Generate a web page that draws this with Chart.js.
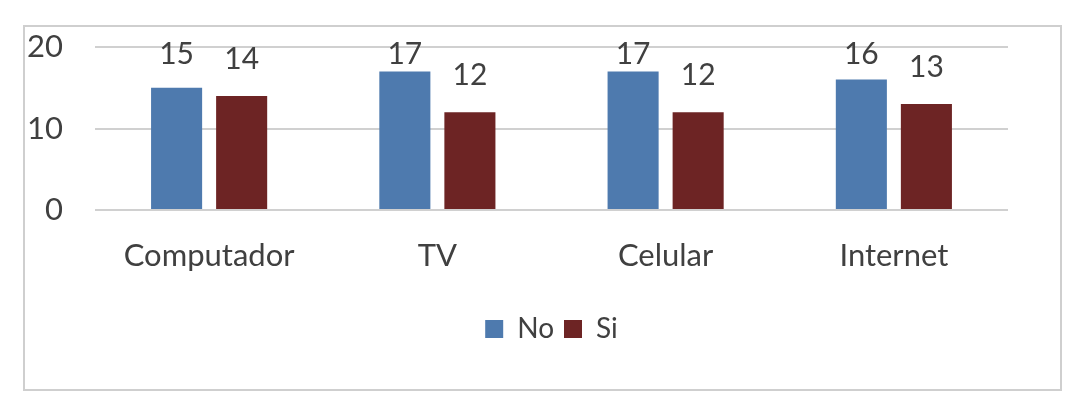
<!DOCTYPE html>
<html>
<head>
<meta charset="utf-8">
<script src="https://cdn.jsdelivr.net/npm/chart.js@4/dist/chart.umd.min.js"></script>
<style>
  body { margin: 0; background: #fff; }
  #wrap {
    position: absolute; left: 23px; top: 25px;
    width: 1035px; height: 362px;
    border: 2px solid #cfcfcf;
  }
</style>
</head>
<body>
<div id="wrap"><canvas id="chart"></canvas></div>
<script>
// data
const categories = ['Computador', 'TV', 'Celular', 'Internet'];
const noValues = [15, 17, 17, 16];
const siValues = [14, 12, 12, 13];
const yTicks = [0, 10, 20];

const textColor = '#404040';
const fontFamily = 'Lato, "Open Sans", sans-serif';

// draws the value above each bar, kept inside the plot like Excel does
const valueLabels = {
    id: 'valueLabels',
    afterDatasetsDraw(chart) {
        const ctx = chart.ctx;
        const top = chart.chartArea.top;
        ctx.save();
        ctx.font = '30px ' + fontFamily;
        ctx.fillStyle = textColor;
        ctx.textAlign = 'center';
        ctx.textBaseline = 'alphabetic';
        chart.data.datasets.forEach((ds, i) => {
            chart.getDatasetMeta(i).data.forEach((bar, j) => {
                const y = Math.max(bar.y - 27, top + 17);
                ctx.fillText(String(ds.data[j]), bar.x, y);
            });
        });
        ctx.restore();
    }
};

// centre the legend under the plot area, not the whole canvas
const legendUnderPlot = {
    id: 'legendUnderPlot',
    afterLayout(chart) {
        const lg = chart.legend;
        lg.left = chart.chartArea.left;
        lg.right = chart.chartArea.right;
        lg.width = lg.right - lg.left;
    }
};

new Chart(document.getElementById('chart'), {
    type: 'bar',
    data: {
        labels: categories,
        datasets: [
            { label: 'No', data: noValues, backgroundColor: '#4e7aae' },
            { label: 'Si', data: siValues, backgroundColor: '#6d2424' }
        ]
    },
    options: {
        responsive: true,
        maintainAspectRatio: false,
        animation: false,
        categoryPercentage: 0.57,
        barPercentage: 0.785,
        layout: { padding: { top: 20, right: 52, bottom: 36, left: 0 } },
        plugins: {
            tooltip: { enabled: false },
            legend: {
                position: 'bottom',
                labels: {
                    color: textColor,
                    font: { family: fontFamily, size: 28 },
                    boxWidth: 18,
                    boxHeight: 18,
                    padding: 10
                }
            }
        },
        scales: {
            x: {
                grid: { display: false },
                border: { display: false },
                ticks: { color: textColor, font: { family: fontFamily, size: 31 }, padding: 19 },
                afterFit(scale) { scale.height = 95; }
            },
            y: {
                min: 0,
                max: 20,
                afterBuildTicks(scale) { scale.ticks = yTicks.map(v => ({ value: v })); },
                // invisible tick marks push the labels left without adding vertical padding
                grid: { color: '#d0d0d0', lineWidth: 2, drawTicks: true, tickLength: 32, tickColor: 'rgba(0,0,0,0)' },
                border: { display: false },
                ticks: { color: textColor, font: { family: fontFamily, size: 31 }, padding: 0 },
                afterFit(scale) { scale.width = 70; }
            }
        }
    },
    plugins: [valueLabels, legendUnderPlot]
});
</script>
</body>
</html>
